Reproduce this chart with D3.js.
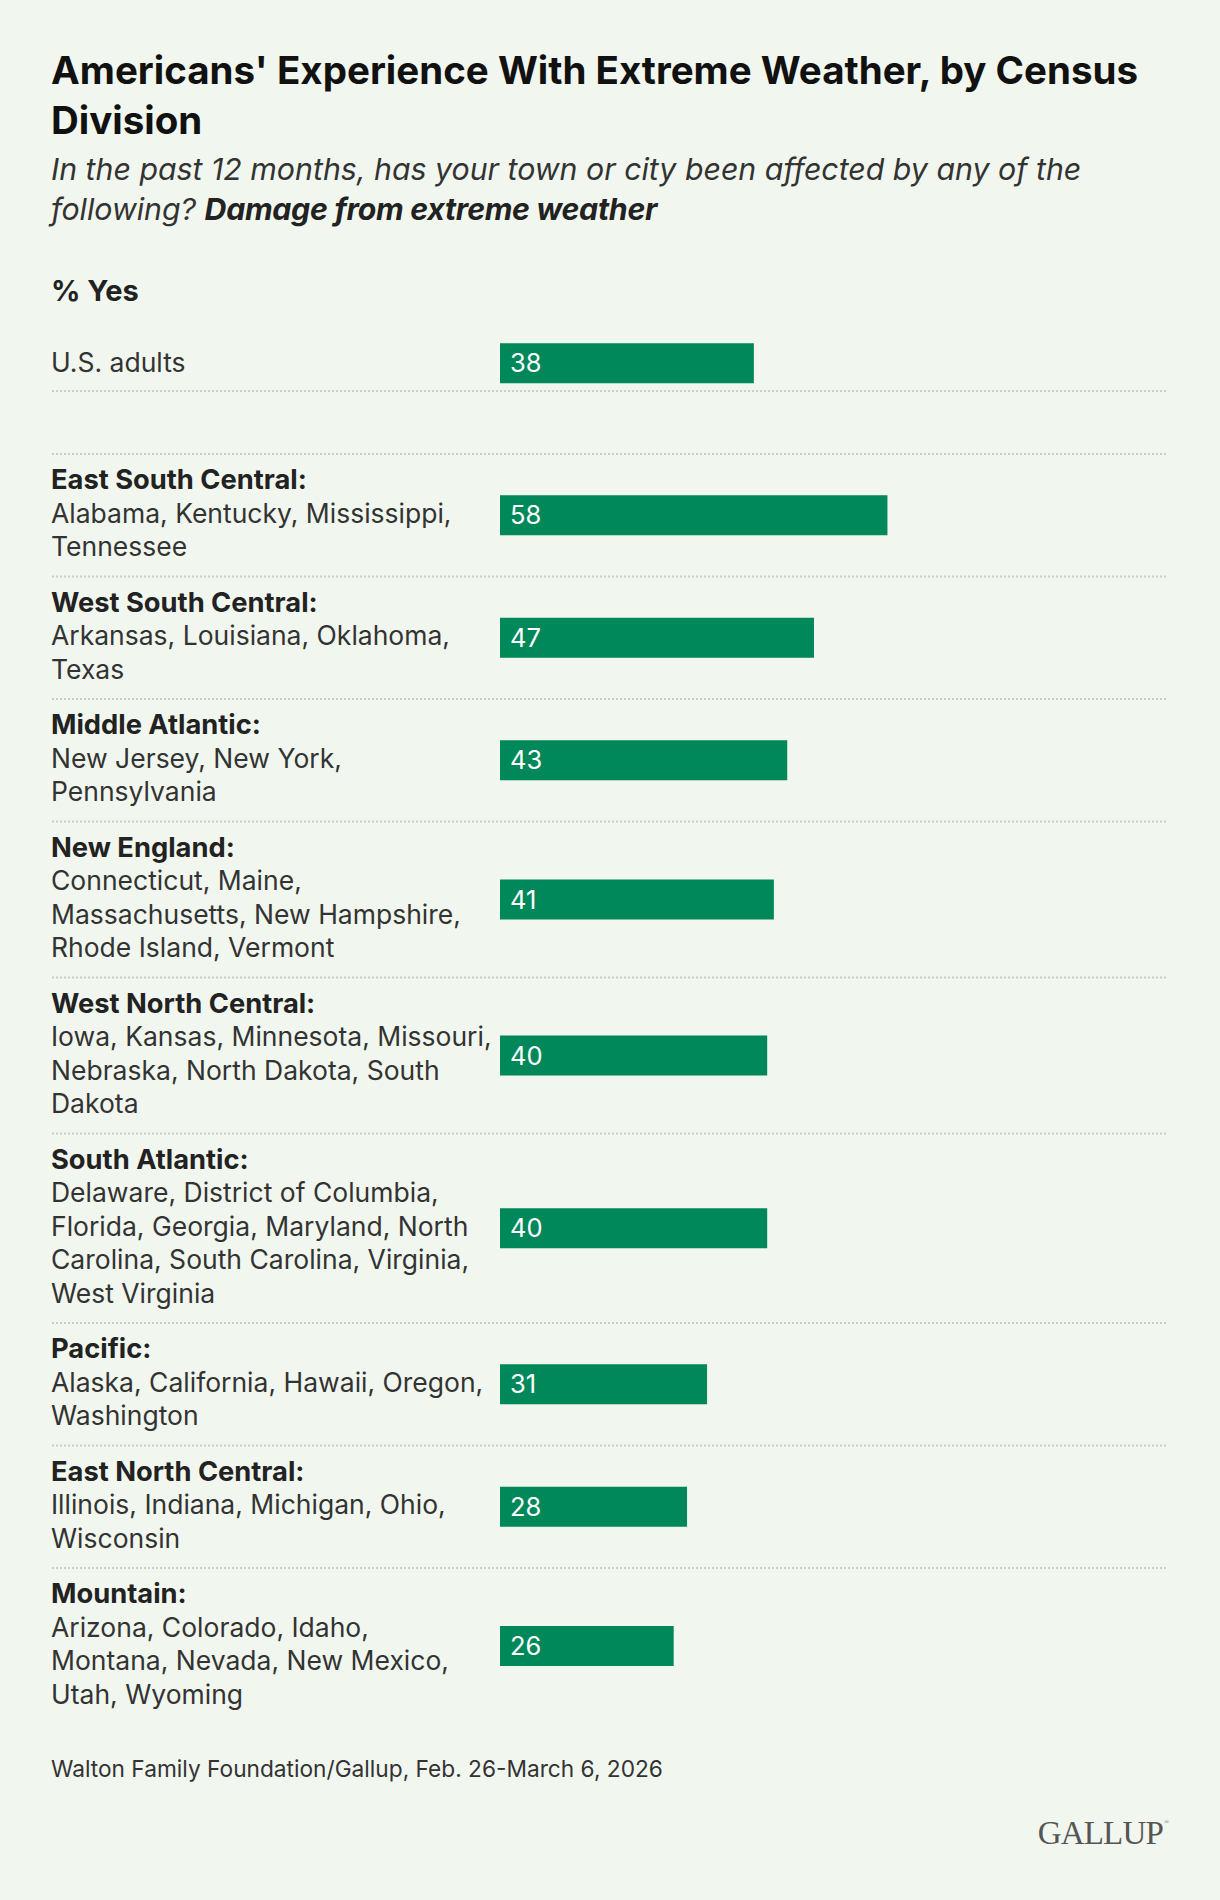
<!DOCTYPE html>
<html><head><meta charset="utf-8">
<script src="https://cdn.jsdelivr.net/npm/d3@7"></script>
<style>
html,body{margin:0;padding:0;background:#f1f7ef;}
svg{display:block;}
</style></head>
<body>
<script>
// ---- data ----
const categories = ["U.S. adults","East South Central:","West South Central:","Middle Atlantic:","New England:","West North Central:","South Atlantic:","Pacific:","East North Central:","Mountain:"];
const stateLines = [
  [],
  ["Alabama, Kentucky, Mississippi,","Tennessee"],
  ["Arkansas, Louisiana, Oklahoma,","Texas"],
  ["New Jersey, New York,","Pennsylvania"],
  ["Connecticut, Maine,","Massachusetts, New Hampshire,","Rhode Island, Vermont"],
  ["Iowa, Kansas, Minnesota, Missouri,","Nebraska, North Dakota, South","Dakota"],
  ["Delaware, District of Columbia,","Florida, Georgia, Maryland, North","Carolina, South Carolina, Virginia,","West Virginia"],
  ["Alaska, California, Hawaii, Oregon,","Washington"],
  ["Illinois, Indiana, Michigan, Ohio,","Wisconsin"],
  ["Arizona, Colorado, Idaho,","Montana, Nevada, New Mexico,","Utah, Wyoming"]
];
const values = [38,58,47,43,41,40,40,31,28,26];
const titleLines = ["Americans' Experience With Extreme Weather, by Census","Division"];
const subtitleLine1 = "In the past 12 months, has your town or city been affected by any of the";
const subtitleLine2a = "following? ";
const subtitleLine2b = "Damage from extreme weather";
const axisLabel = "% Yes";
const sourceText = "Walton Family Foundation/Gallup, Feb. 26-March 6, 2026";

// ---- layout ----
const W = 1220, H = 1900;
const left = 51, right = 1168;
const lineH = 33.5, pad = 22, barH = 40;
const sans = "Inter, 'Noto Sans', sans-serif";
const svg = d3.select("body").append("svg").attr("width", W).attr("height", H)
  .style("font-family", sans);

const x = d3.scaleLinear().domain([0,100]).range([500, 1168]);

// title
svg.append("g").selectAll("text").data(titleLines).join("text")
  .attr("x", left).attr("y", (d,i)=>84 + i*50)
  .attr("font-size", 38.5).attr("font-weight", 700).attr("fill", "#111")
  .text(d=>d);

// subtitle
svg.append("text").attr("x", left).attr("y", 180)
  .attr("font-size", 30.3).attr("font-style","italic").attr("fill","#333")
  .text(subtitleLine1);
const st2 = svg.append("text").attr("x", left).attr("y", 220)
  .attr("font-size", 30.3).attr("font-style","italic").attr("fill","#333");
st2.append("tspan").text(subtitleLine2a);
st2.append("tspan").attr("font-weight",700).attr("fill","#222").attr("letter-spacing", -0.3).text(subtitleLine2b);

svg.append("text").attr("x", left).attr("y", 301)
  .attr("font-size", 29).attr("font-weight",700).attr("fill","#222")
  .text(axisLabel);

// rows
const rows = categories.map((c,i)=>({cat:c, lines: stateLines[i], value: values[i], n: 1 + stateLines[i].length, i}));
let yTop = 335.5;
rows.forEach((r,i)=>{
  r.top = yTop;
  r.h = r.n*lineH + pad;
  yTop += r.h;
  if (i === 0) yTop += 63; // spacer after U.S. adults
});

const sepYs = [];
sepYs.push(rows[0].top + rows[0].h);
rows.slice(1).forEach(r=>sepYs.push(r.top));

svg.append("g").selectAll("line").data(sepYs).join("line")
  .attr("x1", left+1).attr("x2", right).attr("y1", d=>d).attr("y2", d=>d)
  .attr("stroke", "#c9cec8").attr("stroke-width", 2).attr("stroke-dasharray", "2,2");

const g = svg.append("g").selectAll("g").data(rows).join("g");

g.each(function(r){
  const gg = d3.select(this);
  const all = [r.cat].concat(r.lines);
  gg.selectAll("text.lbl").data(all).join("text").attr("class","lbl")
    .attr("x", left)
    .attr("y", (d,j)=> r.i===0 ? r.top + r.h/2 + 9 : r.top + 35 + j*lineH)
    .attr("font-size", (d,j)=> (j===0 && r.i>0) ? 27.3 : 26.5)
    .attr("font-weight", (d,j)=> (j===0 && r.i>0) ? 700 : 400)
    .attr("fill", (d,j)=> (j===0 && r.i>0) ? "#222" : "#333")
    .text(d=>d);
  const cy = r.top + r.h/2;
  gg.append("rect").attr("x", x(0)).attr("y", cy - barH/2)
    .attr("width", x(r.value) - x(0)).attr("height", barH).attr("fill", "#00875a");
  gg.append("text").attr("x", x(0) + 10).attr("y", cy + 9)
    .attr("font-size", 25.5).attr("fill", "#fff").text(r.value);
});

// source
svg.append("text").attr("x", left).attr("y", 1777)
  .attr("font-size", 22.7).attr("fill","#333")
  .text(sourceText);

// logo
svg.append("text").attr("x", 1163).attr("y", 1844).attr("text-anchor","end")
  .style("font-family", "'Liberation Serif','DejaVu Serif',serif")
  .attr("font-size", 33).attr("fill", "#555").attr("letter-spacing", -0.8)
  .text("GALLUP");
svg.append("text").attr("x", 1164).attr("y", 1824)
  .style("font-family", "'Liberation Serif',serif").attr("font-size", 7).attr("fill","#777").text("®");
</script>
</body></html>
